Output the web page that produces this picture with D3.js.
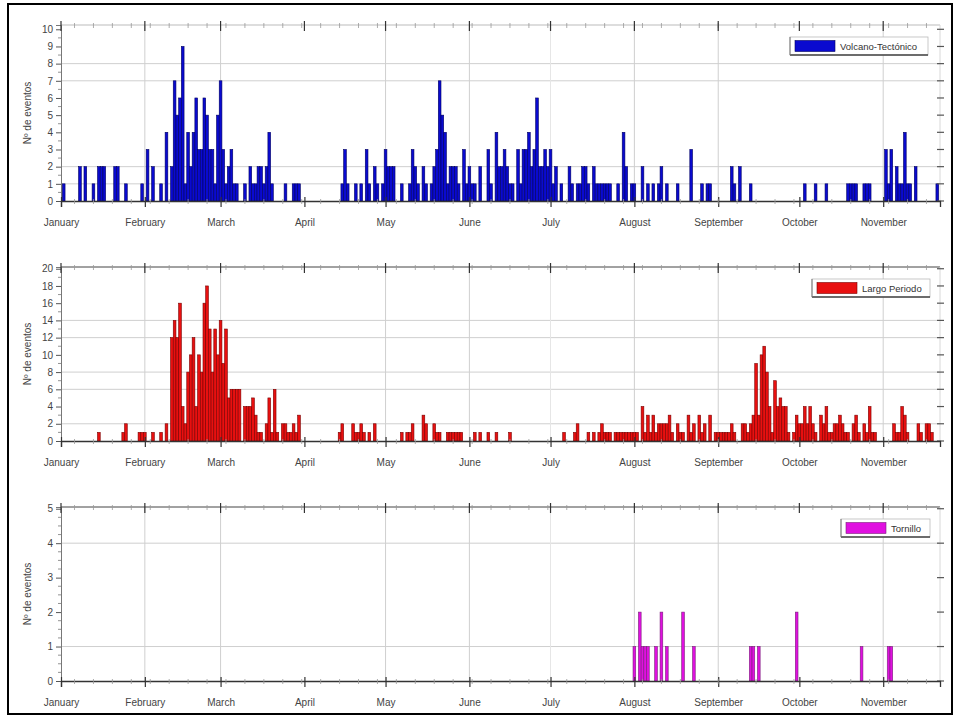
<!DOCTYPE html>
<html>
<head>
<meta charset="utf-8">
<script src="https://cdn.jsdelivr.net/npm/d3@7"></script>
<style>
body { margin: 0; background: #fff; }
svg { display: block; }
text { font-family: "Liberation Sans", Arial, sans-serif; }
</style>
</head>
<body>
<svg id="chart" width="955" height="717"></svg>
<script>
"use strict";

const months = ["January", "February", "March", "April", "May", "June",
	"July", "August", "September", "October", "November"];

// [day of year (0 = 1 Jan), events]
const vtEvents = [
	[1,1],[7,2],[9,2],[12,1],[14,2],[15,2],[16,2],[20,2],[21,2],[24,1],[30,1],[32,3],[34,2],[37,1],
	[39,4],[41,2],[42,7],[43,5],[44,6],[45,9],[46,1],[47,4],[48,2],[49,4],[50,6],[51,3],[52,3],[53,6],
	[54,5],[55,3],[56,3],[57,1],[58,5],[59,7],[60,3],[61,1],[62,2],[63,3],[64,1],[65,1],[68,1],[70,2],
	[71,1],[72,1],[73,2],[74,2],[75,1],[76,2],[77,4],[78,1],[83,1],[86,1],[87,1],[88,1],
	[104,1],[105,3],[106,1],[109,1],[111,1],[113,3],[114,1],[116,2],[117,1],[119,1],[120,3],[121,2],
	[122,2],[123,2],[126,1],[129,1],[130,3],[131,2],[132,1],[134,2],[135,1],[137,1],[138,2],[139,3],
	[140,7],[141,5],[142,4],[143,1],[144,2],[145,2],[146,2],[147,1],[149,3],[150,1],[151,2],[152,1],
	[153,1],[155,2],[158,3],[159,1],[161,4],[162,2],[163,2],[164,3],[165,2],[166,1],[167,1],[169,3],
	[170,1],[171,3],[172,3],[173,4],[174,2],[175,3],[176,6],[177,2],[178,2],[179,3],[180,2],[181,3],
	[182,1],[183,2],[185,1],[188,2],[189,1],[191,1],[192,1],[193,2],[194,2],[195,1],[197,2],[198,1],
	[199,1],[200,1],[201,1],[202,1],[203,1],[206,1],[208,4],[209,2],[211,1],[212,1],
	[215,2],[217,1],[219,1],[221,1],[222,2],[224,1],[228,1],[233,3],[237,1],[239,1],[240,1],[248,2],
	[249,1],[251,2],[255,1],[275,1],[279,1],[283,1],[291,1],[292,1],[293,1],[294,1],[297,1],[298,1],
	[299,1],[305,3],[306,1],[307,3],[309,2],[310,1],[311,1],[312,4],[313,1],[314,1],[316,2],[324,1]
];

const lpEvents = [
	[14,1],[23,1],[24,2],[29,1],[30,1],[31,1],[34,1],[37,1],[39,2],[41,12],[42,14],[43,12],[44,16],
	[45,4],[46,2],[47,8],[48,10],[49,12],[50,4],[51,10],[52,8],[53,16],[54,18],[55,13],[56,8],[57,13],
	[58,10],[59,14],[60,9],[61,13],[62,5],[63,6],[64,6],[65,6],[66,6],[68,4],[69,4],[70,4],[71,5],
	[72,3],[73,1],[74,1],[76,2],[77,5],[78,1],[79,6],[80,1],[82,2],[83,2],[84,1],[85,1],[86,2],[87,1],
	[88,3],
	[103,1],[104,2],[108,2],[109,1],[110,1],[111,2],[112,1],[114,1],[116,2],[126,1],[128,1],[129,1],
	[130,2],[134,3],[135,2],[138,2],[139,1],[140,1],[143,1],[144,1],[145,1],[146,1],[147,1],[148,1],
	[153,1],[155,1],[158,1],[161,1],[166,1],[186,1],[190,1],[191,2],[195,1],[197,1],[199,1],[200,2],
	[201,1],[202,1],[203,1],[205,1],[206,1],[207,1],[208,1],[209,1],[210,1],[211,1],[212,1],[213,1],
	[215,4],[216,1],[217,3],[218,1],[219,3],[220,1],[221,2],[222,2],[223,2],[224,2],[225,3],[226,1],
	[228,2],[229,1],[230,1],[232,3],[233,1],[234,2],[236,3],[237,1],[238,2],[240,3],[242,1],[243,1],
	[244,1],[245,1],[246,1],[247,1],[248,2],[249,1],[252,2],[253,2],[254,1],[255,2],[256,3],[257,9],
	[258,3],[259,10],[260,11],[261,8],[262,4],[263,1],[264,7],[265,4],[266,5],[267,4],[268,4],[269,1],
	[271,1],[272,3],[273,2],[274,2],[275,4],[276,2],[277,4],[278,2],[279,1],[281,3],[282,2],[283,4],
	[284,1],[285,1],[286,2],[287,2],[288,3],[289,2],[290,1],[291,1],[293,2],[294,3],[295,1],[297,2],
	[298,1],[299,4],[300,1],[301,1],[308,2],[309,1],[310,1],[311,4],[312,3],[313,1],[317,2],[318,1],
	[320,2],[321,2],[322,1]
];

const toEvents = [
	[212,1],[214,2],[215,1],[216,1],[217,1],[220,1],[222,2],[224,1],[230,2],[234,1],
	[255,1],[256,1],[258,1],[272,2],[296,1],[306,1],[307,1]
];

const vtTicks = [0,1,2,3,4,5,6,7,8,9,10];
const lpTicks = [0,2,4,6,8,10,12,14,16,18,20];
const toTicks = [0,1,2,3,4,5];

// horizontal grid lines visible in the picture
const vtGrid = [1,2,7,8];
const lpGrid = [2,6,8,12,14];
const toGrid = [1,4];
// months (index) that carry a vertical grid line
const gridMonths = [1,2,4,5,6,7,8,10];

const svg = d3.select("#chart");
const t0 = new Date(2013, 0, 1);
const day = d => d3.timeDay.offset(t0, d);
const x = d3.scaleTime().domain([t0, day(325)]).range([61, 940]);
const bw = x(day(1)) - x(t0);
const monthDates = months.map((m, i) => new Date(2013, i, 1));

const panels = [
	{top: 25, bottom: 201, max: 10.25, data: vtEvents, ticks: vtTicks, minor: 0.5, grid: vtGrid,
		fill: "#0a0ad0", stroke: "#000060", name: "Volcano-Tectónico", lx: 790, lw: 138, topLine: "#bbb"},
	{top: 267, bottom: 441, max: 20.2, data: lpEvents, ticks: lpTicks, minor: 1, grid: lpGrid,
		fill: "#e81010", stroke: "#7a0000", name: "Largo Periodo", lx: 812, lw: 118, topLine: "#444"},
	{top: 507, bottom: 681, max: 5.05, data: toEvents, ticks: toTicks, minor: 0.25, grid: toGrid,
		fill: "#e010e0", stroke: "#7a207a", name: "Tornillo", lx: 841, lw: 89, topLine: "#444"}
];

// outer frame
svg.append("rect")
	.attr("x", 8).attr("y", 4).attr("width", 944).attr("height", 710)
	.attr("fill", "none").attr("stroke", "#000").attr("stroke-width", 2);

panels.forEach(p => {
	const y = d3.scaleLinear().domain([0, p.max]).range([p.bottom, p.top]);
	const g = svg.append("g");

	// grid
	g.selectAll(".hg").data(p.grid).enter().append("line")
		.attr("x1", 61).attr("x2", 940)
		.attr("y1", d => y(d)).attr("y2", d => y(d))
		.attr("stroke", "#cfcfcf").attr("stroke-width", 1);
	g.selectAll(".vg").data(gridMonths).enter().append("line")
		.attr("x1", d => x(monthDates[d])).attr("x2", d => x(monthDates[d]))
		.attr("y1", p.top).attr("y2", p.bottom)
		.attr("stroke", d => d === 6 ? "#e6e6e6" : "#cfcfcf").attr("stroke-width", 1);

	// bars
	g.selectAll(".bar").data(p.data).enter().append("rect")
		.attr("x", d => x(day(d[0])) - bw / 2)
		.attr("width", bw)
		.attr("y", d => y(d[1]))
		.attr("height", d => y(0) - y(d[1]))
		.attr("fill", p.fill)
		.attr("stroke", p.stroke)
		.attr("stroke-width", 0.6);

	// top and right axes
	g.append("line").attr("x1", 61).attr("x2", 940).attr("y1", p.top).attr("y2", p.top)
		.attr("stroke", p.topLine).attr("stroke-width", 1);
	g.append("line").attr("x1", 940).attr("x2", 940).attr("y1", p.top).attr("y2", p.bottom)
		.attr("stroke", "#d8d8d8").attr("stroke-width", 1);
	g.selectAll(".rt").data(p.ticks).enter().append("line")
		.attr("x1", 937).attr("x2", 944)
		.attr("y1", d => y(d)).attr("y2", d => y(d))
		.attr("stroke", "#555").attr("stroke-width", 1.2);

	// left axis
	const minorVals = d3.range(0, p.max, p.minor).filter(v => !p.ticks.includes(v));
	g.selectAll(".mt").data(minorVals).enter().append("line")
		.attr("x1", 58).attr("x2", 61)
		.attr("y1", d => y(d)).attr("y2", d => y(d))
		.attr("stroke", "#777").attr("stroke-width", 0.8);
	const ya = g.append("g").attr("transform", "translate(61,0)")
		.call(d3.axisLeft(y).tickValues(p.ticks).tickSize(5).tickPadding(3).tickFormat(d3.format("d")));
	ya.select(".domain").attr("stroke", "#777");
	ya.selectAll(".tick line").attr("stroke", "#555");
	ya.selectAll("text").attr("fill", "#444").attr("font-size", 10)
		.style("font-family", "'Liberation Sans', Arial, sans-serif");

	// bottom axis with month labels
	const xa = g.append("g").attr("transform", `translate(0,${p.bottom})`)
		.call(d3.axisBottom(x).tickValues(monthDates).tickSize(6).tickPadding(12)
			.tickFormat((d, i) => months[i]));
	xa.select(".domain").attr("stroke", "#333").attr("stroke-width", 1.3);
	xa.selectAll(".tick line").attr("y1", -4).attr("stroke", "#333").attr("stroke-width", 1.2);
	xa.selectAll("text").attr("fill", "#444").attr("font-size", 10)
		.style("font-family", "'Liberation Sans', Arial, sans-serif");

	// weekly minor ticks on top and bottom
	const weeks = d3.timeWeek.range(t0, day(325));
	[p.top, p.bottom].forEach(yy => {
		g.selectAll(null).data(weeks).enter().append("line")
			.attr("x1", d => x(d)).attr("x2", d => x(d))
			.attr("y1", yy - 2).attr("y2", yy + 3)
			.attr("stroke", "#999").attr("stroke-width", 0.8);
	});
	g.selectAll(".tt").data(monthDates).enter().append("line")
		.attr("x1", d => x(d)).attr("x2", d => x(d))
		.attr("y1", p.top - 4).attr("y2", p.top + 6)
		.attr("stroke", "#333").attr("stroke-width", 1.2);

	// y title
	g.append("text")
		.attr("transform", `translate(31,${(p.top + p.bottom) / 2}) rotate(-90)`)
		.attr("text-anchor", "middle")
		.attr("font-size", 10).attr("fill", "#444")
		.text("Nº de eventos");

	// legend
	const lg = g.append("g").attr("transform", `translate(${p.lx},${p.top + 12})`);
	lg.append("rect").attr("width", p.lw).attr("height", 18)
		.attr("fill", "#fff").attr("stroke", "#bbb").attr("stroke-width", 0.8);
	lg.append("line").attr("x1", 0).attr("x2", p.lw).attr("y1", 18).attr("y2", 18)
		.attr("stroke", "#444").attr("stroke-width", 1.5);
	lg.append("line").attr("x1", 0).attr("x2", 0).attr("y1", 0).attr("y2", 18)
		.attr("stroke", "#777").attr("stroke-width", 1);
	lg.append("rect").attr("x", 5).attr("y", 3.5).attr("width", 40).attr("height", 11)
		.attr("fill", p.fill).attr("stroke", p.stroke).attr("stroke-width", 0.6);
	lg.append("text").attr("x", 50).attr("y", 12.5)
		.attr("font-size", 9.5).attr("fill", "#333")
		.text(p.name);
});
</script>
</body>
</html>
